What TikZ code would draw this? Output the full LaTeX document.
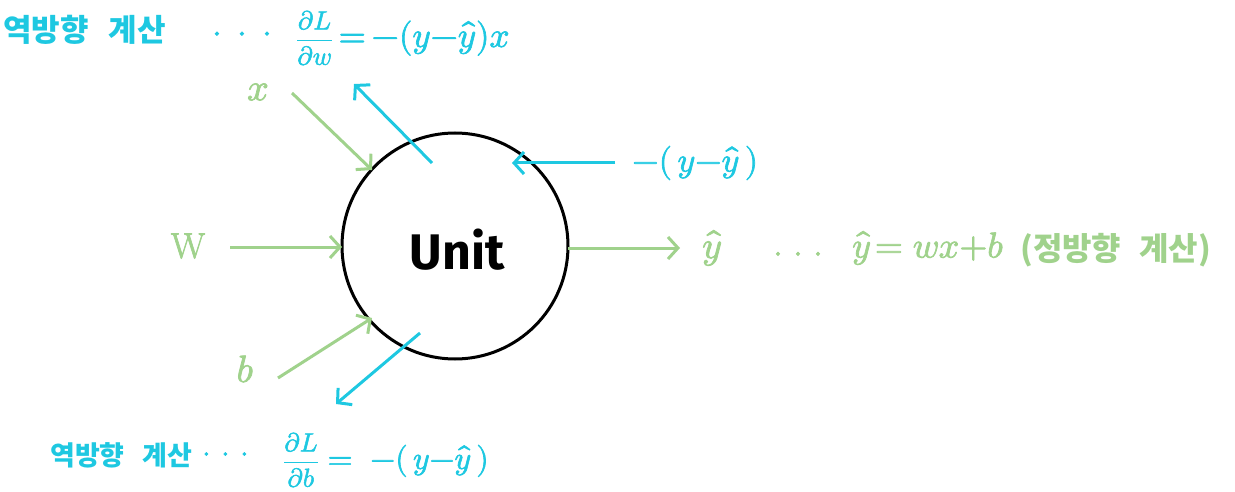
\documentclass[tikz,border=0pt]{standalone}
\usepackage{fontspec}
\usepackage{unicode-math}
\setmathfont{Latin Modern Math}[FakeBold=2]
\usetikzlibrary{arrows.meta}
\newfontfamily\kr{Noto Sans CJK KR}
\newfontfamily\unitfont{Fira Sans}
\newfontfamily\wfont{Latin Modern Roman}[FakeBold=2]
\definecolor{cyanA}{RGB}{30,200,225}
\definecolor{greenA}{RGB}{160,210,140}
\tikzset{
  arr/.style={line width=3pt, -{Straight Barb[length=10pt,width=22pt,line width=3pt]}},
  fw/.style={arr, draw=greenA},
  bw/.style={arr, draw=cyanA},
  gtxt/.style={text=greenA, inner sep=0pt},
  ctxt/.style={text=cyanA, inner sep=0pt},
}
\newcommand{\dotsrow}[1]{$\cdot\hspace{#1}\cdot\hspace{#1}\cdot$}
\begin{document}
\begin{tikzpicture}[x=1pt,y=-1pt]
\useasboundingbox (0,0) rectangle (1235,492);
% unit
\node[circle, draw=black, line width=3pt, minimum size=226pt, inner sep=0pt] (unit) at (455,246) {};
\node[inner sep=0pt, font=\unitfont\fontsize{50}{54}\selectfont\bfseries] (unitlabel) at (457,250) {Unit};
% top backward text
\node[ctxt, font=\kr\fontsize{31}{34}\selectfont\bfseries, anchor=west] (topkr) at (3,30) {역방향\hspace{20pt}계산};
\node[ctxt, font=\fontsize{34}{38}\selectfont, anchor=west] (topdots) at (212,37) {\dotsrow{8pt}};
\node[ctxt, font=\fontsize{26}{30}\selectfont, anchor=west] (topeq) at (296,38) {$\displaystyle\frac{\partial L}{\partial w}$\fontsize{35}{38}\selectfont$\,{=}\,{-}(y{-}\hat{y})x$};
% bottom backward text
\node[ctxt, font=\kr\fontsize{27}{30}\selectfont\bfseries, anchor=west] (botkr) at (50,455) {역방향\hspace{18pt}계산};
\node[ctxt, font=\fontsize{30}{34}\selectfont, anchor=west] (botdots) at (202,457) {\dotsrow{4pt}};
\node[ctxt, font=\fontsize{26}{30}\selectfont, anchor=west] (boteq) at (283,460) {$\displaystyle\frac{\partial L}{\partial b}$\fontsize{32}{36}\selectfont$\;=\;-(\,y{-}\hat{y}\,)$};
% right cyan label
\node[ctxt, font=\fontsize{34}{38}\selectfont, anchor=west] (grad) at (632,163) {$-(\,y{-}\hat{y}\,)$};
% inputs
\node[gtxt, font=\fontsize{38}{42}\selectfont] (xlab) at (258,92) {$x$};
\node[gtxt, font=\wfont\fontsize{36}{40}\selectfont] (wlab) at (188,246) {W};
\node[gtxt, font=\fontsize{38}{42}\selectfont] (blab) at (245,369) {$b$};
% output
\node[gtxt, font=\fontsize{38}{42}\selectfont] (yhat) at (712,248) {$\hat{y}$};
\node[gtxt, font=\fontsize{32}{36}\selectfont] (fdots) at (798,257) {\dotsrow{4pt}};
\node[gtxt, font=\fontsize{36}{40}\selectfont, anchor=west] (feq) at (852,248) {$\hat{y}\!=wx{+}b$};
\node[gtxt, font=\kr\fontsize{32}{36}\selectfont\bfseries, anchor=west] (fkr) at (1020,250) {(정방향\hspace{18pt}계산)};
% coordinates
\coordinate (xs) at (292,93);
\coordinate (xe) at (372,170);
\coordinate (ws) at (230,247);
\coordinate (we) at (342,247);
\coordinate (bs) at (278,378);
\coordinate (be) at (372,318);
\coordinate (os) at (568,248);
\coordinate (oe) at (680,248);
\coordinate (gws) at (432,163);
\coordinate (gwe) at (354,84);
\coordinate (gs) at (615,163);
\coordinate (ge) at (512,163);
\coordinate (gbs) at (420,333);
\coordinate (gbe) at (336,404);
% arrows
\draw[fw] (xs) -- (xe);
\draw[fw] (ws) -- (we);
\draw[fw] (bs) -- (be);
\draw[fw] (os) -- (oe);
\draw[bw] (gws) -- (gwe);
\draw[bw] (gs) -- (ge);
\draw[bw] (gbs) -- (gbe);
\end{tikzpicture}
\end{document}
